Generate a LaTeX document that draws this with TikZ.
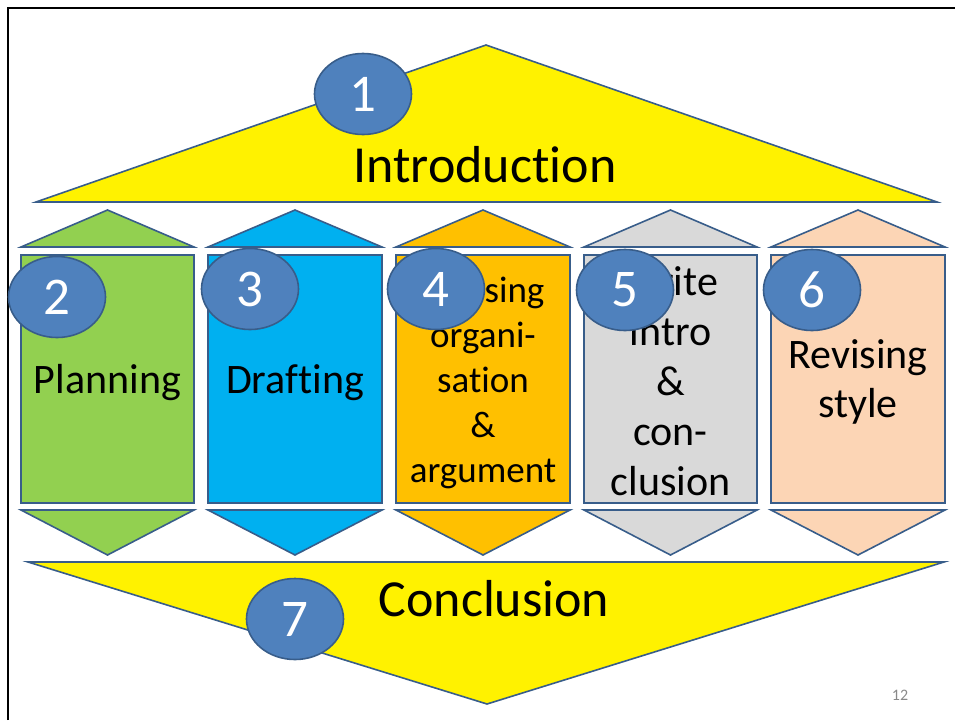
\documentclass[tikz,border=0pt]{standalone}
\usepackage{fontspec}
\setmainfont{Carlito}[Ligatures={NoCommon,NoContextual}]
\usepackage{tikz}
\usetikzlibrary{shapes.geometric}
\definecolor{edgeblue}{HTML}{385D8A}
\definecolor{numblue}{HTML}{4F81BD}
\definecolor{cgreen}{HTML}{92D050}
\definecolor{cblue}{HTML}{00B0F0}
\definecolor{corange}{HTML}{FFC000}
\definecolor{cgrey}{HTML}{D9D9D9}
\definecolor{cpeach}{HTML}{FCD5B5}
\definecolor{pagegrey}{HTML}{898989}

\begin{document}
\begin{tikzpicture}[x=1pt,y=-1pt,
    piece/.style={draw=edgeblue,line width=1.6pt,line join=miter},
    num/.style={ellipse,draw=edgeblue,line width=1.6pt,fill=numblue,
      minimum width=97pt,minimum height=81pt,inner sep=0pt,text=white,
      font=\fontsize{53}{60}\selectfont},
    coltext/.style={align=center,font=\fontsize{42}{50}\selectfont},
    bigtext/.style={anchor=base,font=\fontsize{52}{60}\selectfont}]
      \useasboundingbox (0,0) rectangle (955,720);
      % frame
      \draw[line width=2.4pt] (8,720)--(8,8)--(955,8);
      % top and bottom arrows
      \coordinate (TL) at (36,202);
      \coordinate (TR) at (937,202);
      \coordinate (TA) at (486,45);
      \coordinate (BL) at (28,562);
      \coordinate (BR) at (944,562);
      \coordinate (BA) at (487,704);
      \draw[piece,fill=yellow] (TL)--(TA)--(TR)--cycle;
      \draw[piece,fill=yellow] (BL)--(BR)--(BA)--cycle;
      \node[bigtext] (intro) at (485,182) {Introduction};
      \node[bigtext] (concl) at (494,616) {Conclusion};
      % columns
      \foreach \l/\r/\c in {21/194/cgreen,208/382/cblue,396/570/corange,584/757/cgrey,771/945/cpeach}{
        \draw[piece,fill=\c] (\l,247)--({(\l+\r)/2},210)--(\r,247)--cycle;
        \draw[piece,fill=\c] (\l,255) rectangle (\r,503);
        \draw[piece,fill=\c] (\l,510)--({(\l+\r)/2},555)--(\r,510)--cycle;
      }
      \node[coltext,anchor=base] (plan) at (107.5,393) {Planning};
      \node[coltext,anchor=base] (draft) at (295,393) {Drafting};
      \node[coltext,font=\fontsize{37}{45}\selectfont] (org) at (483,383)
        {Revising\\organi-\\sation\\\&\\argument};
      \node[coltext] (write) at (670.5,381) {Write\\intro\\\&\\con-\\clusion};
      \node[coltext,font=\fontsize{42}{49}\selectfont] (style) at (858,382) {Revising\\style};
      % numbers
      \node[num] (n1) at (363,94) {1};
      \node[num] (n2) at (57,297) {2};
      \node[num] (n3) at (250,289) {3};
      \node[num] (n4) at (436,289) {4};
      \node[num] (n5) at (625,290) {5};
      \node[num] (n6) at (812,290) {6};
      \node[num] (n7) at (295,619) {7};
      \node[text=pagegrey,font=\fontsize{16}{18}\selectfont] (page) at (900,695) {12};
\end{tikzpicture}
\end{document}
